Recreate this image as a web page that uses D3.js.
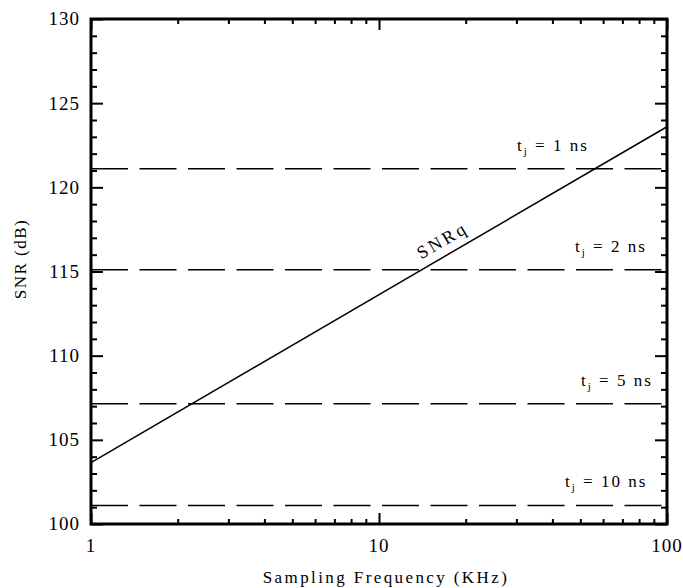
<!DOCTYPE html>
<html>
<head>
<meta charset="utf-8">
<script src="https://cdn.jsdelivr.net/npm/d3@7"></script>
</head>
<body style="margin:0">
<script>
(function(){
    /* global d3 */
    // data
    var xTicks = [1, 10, 100];
    var yTicks = [100, 105, 110, 115, 120, 125, 130];
    var snrqFreq = [1, 100];
    var snrqDb = [103.65, 123.6];
    var jitterNs = [1, 2, 5, 10];
    var jitterDb = [121.1, 115.1, 107.15, 101.1];

    // where each jitter label starts (layout only)
    var labelLeft = [517, 575, 581, 565];

    var SERIF = "'Liberation Serif'";
    var W = 683, H = 588;
    var x = d3.scaleLog().domain([1, 100]).range([91, 667]);
    var y = d3.scaleLinear().domain([100, 130]).range([524, 19]);

    var svg = d3.select('body').append('svg')
        .attr('width', W).attr('height', H);

    function serifText(sel){
        return sel.attr('font-family', SERIF).style('font-family', SERIF);
    }

    // minor ticks
    var xMinor = [];
    [1, 10].forEach(d => { for (var k = 2; k <= 9; k++) xMinor.push(d * k); });
    var yMinor = d3.range(100, 131).filter(v => v % 5 !== 0);

    function tickGroup(axis, tx, ty){
        var g = svg.append('g').attr('transform', 'translate(' + tx + ',' + ty + ')').call(axis);
        g.select('.domain').remove();
        g.selectAll('text').remove();
        g.selectAll('line').attr('stroke', '#000').attr('stroke-width', 2);
        return g;
    }

    tickGroup(d3.axisBottom(x).tickValues(xMinor).tickSize(-5), 0, y(100));
    tickGroup(d3.axisTop(x).tickValues(xMinor).tickSize(-5), 0, y(130));
    tickGroup(d3.axisBottom(x).tickValues(xTicks).tickSize(-11), 0, y(100));
    tickGroup(d3.axisTop(x).tickValues(xTicks).tickSize(-11), 0, y(130));
    tickGroup(d3.axisLeft(y).tickValues(yMinor).tickSize(-6), x(1), 0);
    tickGroup(d3.axisRight(y).tickValues(yMinor).tickSize(-6), x(100), 0);
    tickGroup(d3.axisLeft(y).tickValues(yTicks).tickSize(-12), x(1), 0);
    tickGroup(d3.axisRight(y).tickValues(yTicks).tickSize(-12), x(100), 0);

    // tick labels
    svg.append('g').selectAll('text')
        .data(yTicks).enter()
        .append('text')
        .call(serifText)
        .attr('x', 80).attr('y', d => y(d)).attr('dy', '0.34em')
        .attr('text-anchor', 'end')
        .attr('font-size', 19).attr('letter-spacing', 1)
        .text(d => d);

    svg.append('g').selectAll('text')
        .data(xTicks).enter()
        .append('text')
        .call(serifText)
        .attr('x', d => x(d)).attr('y', 552)
        .attr('text-anchor', 'middle')
        .attr('font-size', 19).attr('letter-spacing', 1)
        .text(d => d);

    // jitter limits (dashed)
    svg.append('g').selectAll('line')
        .data(jitterDb).enter()
        .append('line')
        .attr('x1', x(1)).attr('x2', x(100))
        .attr('y1', d => y(d)).attr('y2', d => y(d))
        .attr('stroke', '#000').attr('stroke-width', 1.5)
        .attr('stroke-dasharray', '37,11.5');

    var lab = svg.append('g').selectAll('text')
        .data(jitterNs).enter()
        .append('text')
        .call(serifText)
        .attr('x', (d, i) => labelLeft[i])
        .attr('y', (d, i) => y(jitterDb[i]) - 18)
        .attr('font-size', 17).attr('letter-spacing', 2);
    lab.append('tspan').text('t');
    lab.append('tspan').attr('font-size', 11).attr('dy', 4).text('j');
    lab.append('tspan').attr('dy', -4).text(d => ' = ' + d + ' ns');

    // quantization SNR line
    var line = d3.line().x(d => x(d[0])).y(d => y(d[1]));
    svg.append('path')
        .datum(snrqFreq.map((f, i) => [f, snrqDb[i]]))
        .attr('d', line)
        .attr('fill', 'none').attr('stroke', '#000').attr('stroke-width', 1.5);

    var x0 = x(snrqFreq[0]), y0 = y(snrqDb[0]), x1 = x(snrqFreq[1]), y1 = y(snrqDb[1]);
    var ang = Math.atan2(y1 - y0, x1 - x0);
    var px = 450, py = y0 + (px - x0) * (y1 - y0) / (x1 - x0);
    var off = 9;
    svg.append('text')
        .call(serifText)
        .attr('transform', 'translate(' + (px + off * Math.sin(ang)) + ',' + (py - off * Math.cos(ang)) + ') rotate(' + (ang * 180 / Math.PI) + ')')
        .attr('text-anchor', 'middle')
        .attr('font-size', 18).attr('letter-spacing', 3)
        .text('SNRq');

    // frame
    svg.append('rect')
        .attr('x', x(1)).attr('y', y(130))
        .attr('width', x(100) - x(1)).attr('height', y(100) - y(130))
        .attr('fill', 'none').attr('stroke', '#000').attr('stroke-width', 3);

    // axis titles
    svg.append('text')
        .call(serifText)
        .attr('x', 386).attr('y', 583)
        .attr('text-anchor', 'middle')
        .attr('font-size', 17).attr('letter-spacing', 2.4)
        .text('Sampling Frequency (KHz)');

    svg.append('text')
        .call(serifText)
        .attr('transform', 'translate(26,259) rotate(-90)')
        .attr('text-anchor', 'middle')
        .attr('font-size', 17).attr('letter-spacing', 1.5)
        .text('SNR (dB)');
})();
</script>
</body>
</html>
